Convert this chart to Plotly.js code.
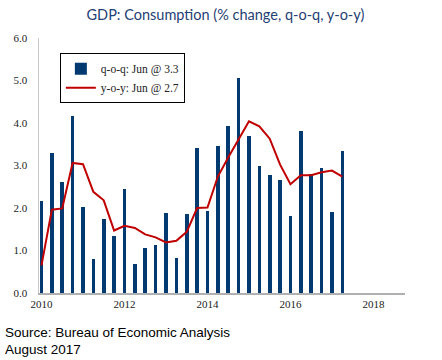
<!DOCTYPE html>
<html><head><meta charset="utf-8">
<script src="https://cdn.plot.ly/plotly-3.0.1.min.js"></script>
<style>body{margin:0;background:#fff}#chart{width:442px;height:360px}</style>
</head><body><div id="chart"></div>
<script>
// Quarterly positions (decimal years), 2010 Q1 .. 2017 Q2
const quarters = [2010.00,2010.25,2010.50,2010.75,2011.00,2011.25,2011.50,2011.75,
  2012.00,2012.25,2012.50,2012.75,2013.00,2013.25,2013.50,2013.75,
  2014.00,2014.25,2014.50,2014.75,2015.00,2015.25,2015.50,2015.75,
  2016.00,2016.25,2016.50,2016.75,2017.00,2017.25];
const qoq = [2.17,3.29,2.62,4.17,2.02,0.81,1.75,1.35,2.44,0.69,1.06,1.12,1.89,0.83,1.87,3.42,
  1.93,3.47,3.94,5.06,3.69,3.00,2.77,2.67,1.81,3.81,2.81,2.93,1.91,3.33];
const yoy = [0.65,1.96,1.99,3.06,3.03,2.38,2.18,1.47,1.58,1.53,1.38,1.31,1.19,1.23,1.44,2.00,
  2.01,2.74,3.19,3.61,4.04,3.92,3.63,3.02,2.56,2.77,2.77,2.84,2.88,2.74];
const xTicks = [2010,2012,2014,2016,2018];
const yTicks = [0,1,2,3,4,5,6];

const traces = [
  {type:'bar', x:quarters, y:qoq, name:'q-o-q: Jun @ 3.3', width:0.088,
   marker:{color:'#003A70'}},
  {type:'scatter', mode:'lines', x:quarters, y:yoy, name:'y-o-y: Jun @ 2.7',
   line:{color:'#C00000', width:2}}
];
const layout = {
  width:442, height:360,
  margin:{l:39, r:37, t:38, b:67},
  paper_bgcolor:'#fff', plot_bgcolor:'#fff',
  title:{text:'GDP: Consumption (% change, q-o-q, y-o-y)', x:0.51, xanchor:'center', y:0.958, yanchor:'middle',
    font:{family:'Lato, "Open Sans", sans-serif', size:14.5, color:'#1F4173'}},
  xaxis:{range:[2009.94,2018.76], tickvals:xTicks, ticktext:xTicks.map(String),
    showgrid:false, zeroline:false, showline:true, linecolor:'#b0b0b0', linewidth:1.5,
    ticks:'', tickfont:{family:'"Liberation Serif", serif', size:11, color:'#222'}},
  yaxis:{range:[0,6], tickvals:yTicks, tickformat:'.1f', showgrid:false, zeroline:false,
    showline:true, linecolor:'#c8c8c8', linewidth:1.5, ticks:'', ticklabelstandoff:8,
    tickfont:{family:'"Liberation Serif", serif', size:11, color:'#222'}},
  showlegend:true,
  legend:{x:0.057, y:0.94, xanchor:'left', yanchor:'top', bordercolor:'#000', borderwidth:1,
    bgcolor:'#fff', itemwidth:30, tracegroupgap:0, valign:'middle',
    font:{family:'"Liberation Serif", serif', size:11.5, color:'#222'}},
  bargap:0,
  annotations:[
    {xref:'paper', yref:'paper', x:-36/366, y:-40/255, xanchor:'left', yanchor:'middle', showarrow:false,
     text:'Source: Bureau of Economic Analysis', font:{family:'"Liberation Sans", Arial, sans-serif', size:13.5, color:'#000'}},
    {xref:'paper', yref:'paper', x:-36/366, y:-56/255, xanchor:'left', yanchor:'middle', showarrow:false,
     text:'August 2017', font:{family:'"Liberation Sans", Arial, sans-serif', size:13.5, color:'#000'}}
  ]
};
Plotly.newPlot('chart', traces, layout, {displayModeBar:false, staticPlot:true});
</script></body></html>
